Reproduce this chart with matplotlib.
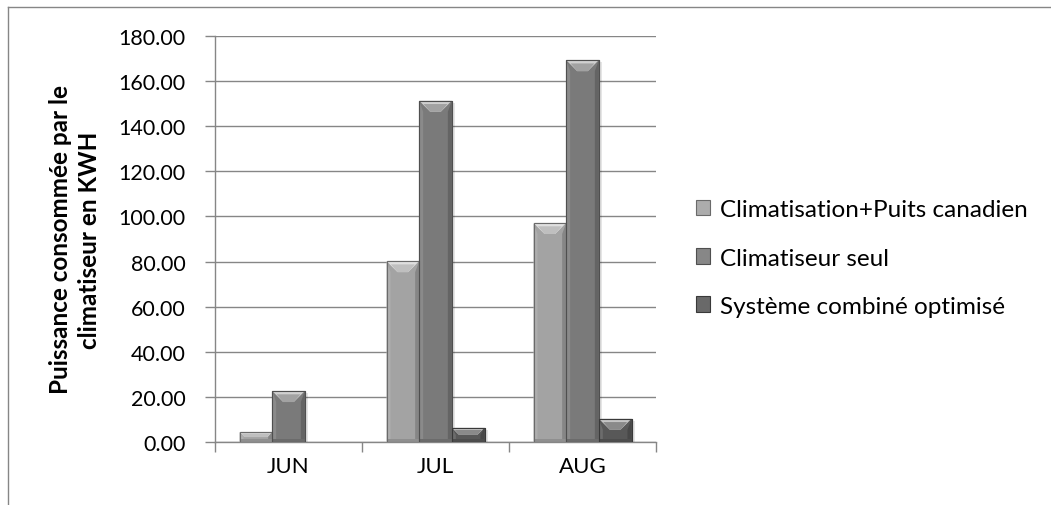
import matplotlib.pyplot as plt
from matplotlib.patches import Polygon, Rectangle
from matplotlib.lines import Line2D
import numpy as np

plt.rcParams['font.family'] = ['Lato', 'DejaVu Sans']

# ============================
# Donnees
# ============================
months = ["JUN", "JUL", "AUG"]
series_names = ["Climatisation+Puits canadien", "Climatiseur seul", "Système combiné optimisé"]
clim_puits = [4.4, 80.2, 97.1]
clim_seul = [22.6, 151.3, 169.3]
systeme_opt = [0.0, 6.3, 10.3]
yticks = [0, 20, 40, 60, 80, 100, 120, 140, 160, 180]

series = [clim_puits, clim_seul, systeme_opt]
colors = ["#a3a3a3", "#7a7a7a", "#585858"]
grid_col = "#868686"

W, H = 1051, 506
fig = plt.figure(figsize=(W / 100, H / 100), dpi=100)
ax = fig.add_axes([215 / W, 63 / H, 441 / W, 406 / H])

n = len(series)
bw = 1 / (n + 1.5)
x = np.arange(len(months))
ax.set_xlim(-0.5, len(months) - 0.5)
ax.set_ylim(0, 180)

# taille d'un pixel en unites de donnees (pour le biseau)
px_x = 1.0 * len(months) / 441
px_y = 180 / 406


def lighten(c, f):
    r, g, b = [int(c[i:i + 2], 16) / 255 for i in (1, 3, 5)]
    return (r + (1 - r) * f, g + (1 - g) * f, b + (1 - b) * f)


def darken(c, f):
    r, g, b = [int(c[i:i + 2], 16) / 255 for i in (1, 3, 5)]
    return (r * (1 - f), g * (1 - f), b * (1 - f))


def bevel_bar(xc, h, col):
    if h <= 0:
        return
    x0, x1 = xc - bw / 2, xc + bw / 2
    # ombre
    ax.add_patch(Rectangle((x0 + 2 * px_x, 0), bw + 1 * px_x, h - 2 * px_y,
                           facecolor="#000000", alpha=0.10, lw=0, zorder=2))
    ax.bar(xc, h, bw, color=col, edgecolor=darken(col, 0.35), linewidth=0.8, zorder=3)
    b = min(11, h / px_y / 2)
    bx, by = b * px_x, b * px_y
    sx = 4 * px_x
    # haut
    ax.add_patch(Polygon([(x0, h), (x1, h), (x1 - bx, h - by), (x0 + bx, h - by)],
                         facecolor=lighten(col, 0.65), edgecolor="none", zorder=4))
    ax.add_patch(Polygon([(x0 + bx * 0.4, h - by * 0.3), (x1 - bx * 0.4, h - by * 0.3),
                          (x1 - bx, h - by), (x0 + bx, h - by)],
                         facecolor=lighten(col, 0.3), edgecolor="none", zorder=4))
    # cotes
    ax.add_patch(Polygon([(x0, h), (x0 + min(sx, bx), h - by), (x0 + min(sx, bx), 0), (x0, 0)],
                         facecolor=lighten(col, 0.12), edgecolor="none", zorder=4))
    ax.add_patch(Polygon([(x1, h), (x1 - min(sx, bx), h - by), (x1 - min(sx, bx), 0), (x1, 0)],
                         facecolor=darken(col, 0.18), edgecolor="none", zorder=4))
    ax.add_patch(Rectangle((x0, 0), bw, min(3 * px_y, h / 3),
                           facecolor=darken(col, 0.12), edgecolor="none", zorder=4))
    ax.add_patch(Rectangle((x0, 0), bw, h, facecolor="none",
                           edgecolor=darken(col, 0.35), linewidth=0.8, zorder=5))


for i, vals in enumerate(series):
    for j, v in enumerate(vals):
        bevel_bar(x[j] + (i - 1) * bw, v, colors[i])

# grille et axes
ax.set_yticks(yticks)
ax.set_yticklabels([f"{v:.2f}" for v in yticks], fontsize=15.5)
ax.yaxis.grid(True, color=grid_col, linewidth=1.0, zorder=1)
ax.set_axisbelow(True)
ax.set_xticks(x)
ax.set_xticklabels(months, fontsize=16)
ax.set_xticks(np.arange(len(months) + 1) - 0.5, minor=True)
ax.tick_params(axis="x", which="major", length=0, pad=10)
ax.tick_params(axis="x", which="minor", length=7, color=grid_col, width=1)
ax.tick_params(axis="y", length=7, color=grid_col, width=1, pad=14)
for s in ["top", "right"]:
    ax.spines[s].set_visible(False)
for s in ["left", "bottom"]:
    ax.spines[s].set_color(grid_col)
    ax.spines[s].set_linewidth(1.0)

fig.text(75 / W, 1 - 240 / H, "Puissance consommée par le\nclimatiseur en KWH",
         rotation=90, ha="center", va="center", multialignment="center",
         fontsize=17.5, fontweight="bold", linespacing=1.3)

# legende
handles = [Rectangle((0, 0), 1, 1, facecolor=lighten(c, 0.1), edgecolor=darken(c, 0.35), lw=0.8)
           for c in colors]
fig.legend(handles, series_names, loc="center left", bbox_to_anchor=(686 / W, 1 - 259 / H),
           frameon=False, fontsize=17.5, handlelength=0.6, handleheight=0.6,
           handletextpad=0.4, labelspacing=1.12, borderaxespad=0)

# cadre
fig.add_artist(Line2D([8 / W, 1], [1 - 8 / H, 1 - 8 / H], color=grid_col, lw=1.0))
fig.add_artist(Line2D([8 / W, 8 / W], [0, 1 - 8 / H], color=grid_col, lw=1.0))

fig.savefig("out.png", dpi=100)
